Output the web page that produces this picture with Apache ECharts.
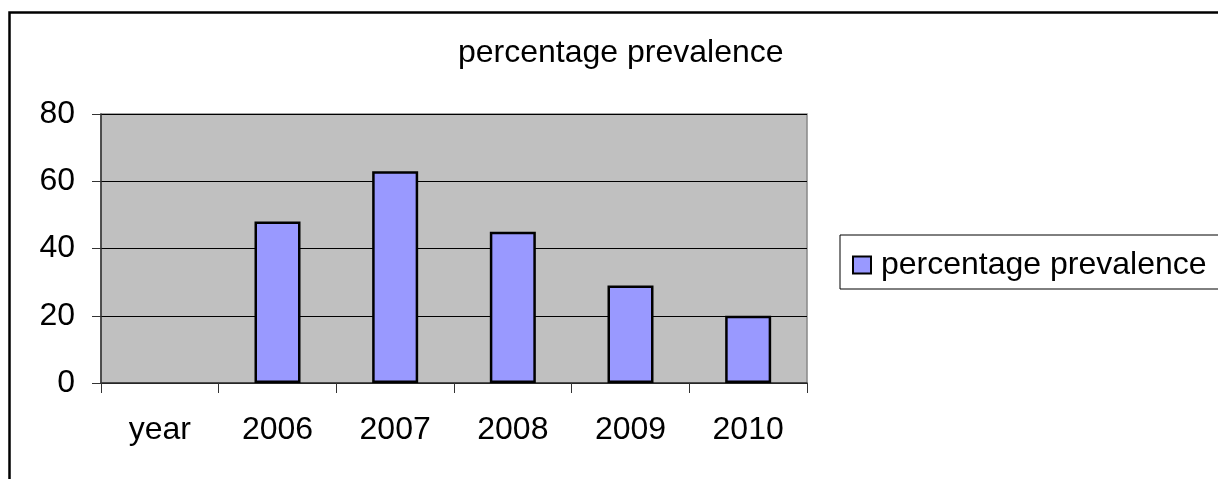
<!DOCTYPE html>
<html>
<head>
<meta charset="utf-8">
<script src="https://cdn.jsdelivr.net/npm/echarts@6/dist/echarts.min.js"></script>
<style>
html,body{margin:0;padding:0;background:#fff;}
#chart{width:1218px;height:479px;}
</style>
</head>
<body>
<div id="chart"></div>
<script>
var categories = ['year', '2006', '2007', '2008', '2009', '2010'];
var prevalence = [null, 48, 63, 45, 29, 20];
var seriesName = 'percentage prevalence';
var titleText = 'percentage prevalence';

var FONT = '"Liberation Sans", Arial, sans-serif';
var chart = echarts.init(document.getElementById('chart'));
chart.setOption({
  animation: false,
  backgroundColor: '#ffffff',
  graphic: [{
    type: 'rect',
    shape: { x: 9.5, y: 12.5, width: 1400, height: 700 },
    style: { fill: 'none', stroke: '#000', lineWidth: 2.5 },
    silent: true
  }],
  title: {
    text: titleText,
    left: 453,
    top: 32,
    textStyle: { fontFamily: FONT, fontSize: 32, fontWeight: 'normal', color: '#000' }
  },
  legend: {
    left: 840,
    top: 235,
    orient: 'vertical',
    padding: [14, 40, 8, 12],
    borderColor: '#000',
    borderWidth: 1,
    itemWidth: 18,
    itemHeight: 17,
    icon: 'rect',
    itemStyle: { color: '#9999FF', borderColor: '#000', borderWidth: 2 },
    textStyle: { fontFamily: FONT, fontSize: 32, color: '#000', padding: [0, 0, 0, 5] },
    data: [seriesName]
  },
  grid: {
    left: 101,
    top: 114,
    right: 411,
    bottom: 96,
    show: true,
    backgroundColor: '#C0C0C0',
    borderColor: '#888888',
    borderWidth: 1.5
  },
  xAxis: {
    type: 'category',
    data: categories,
    boundaryGap: true,
    axisLine: { show: true, lineStyle: { color: '#333', width: 1.5 } },
    axisTick: { show: true, length: 10, alignWithLabel: false, lineStyle: { color: '#333', width: 1 } },
    axisLabel: { fontFamily: FONT, fontSize: 32, color: '#000', margin: 31, interval: 0 }
  },
  yAxis: {
    type: 'value',
    min: 0,
    max: 80,
    interval: 20,
    axisLine: { show: true, lineStyle: { color: '#333', width: 1.5 } },
    axisTick: { show: true, length: 9, lineStyle: { color: '#333', width: 1 } },
    axisLabel: { fontFamily: FONT, fontSize: 32, color: '#000', margin: 26 },
    splitLine: { show: true, lineStyle: { color: '#000', width: 1 } }
  },
  series: [{
    name: seriesName,
    type: 'bar',
    data: prevalence,
    barWidth: 46,
    itemStyle: { color: '#9999FF', borderColor: '#000', borderWidth: 2.5 }
  }]
});
</script>
</body>
</html>
